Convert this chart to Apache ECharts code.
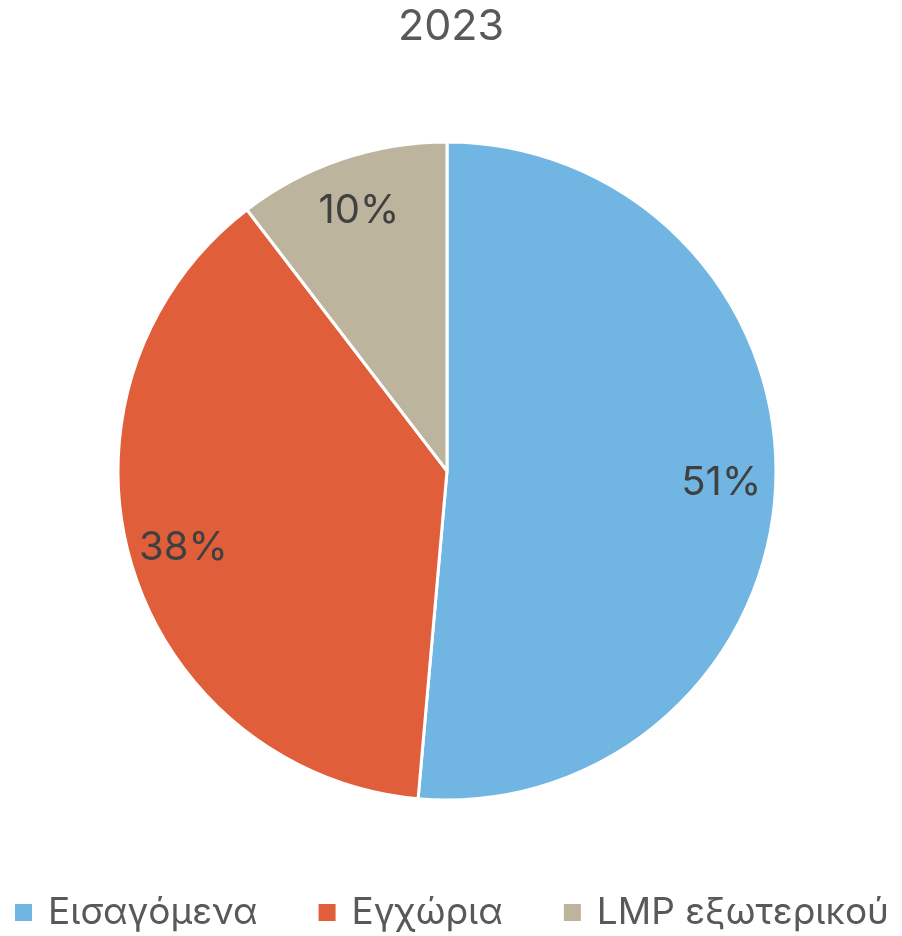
<!DOCTYPE html>
<html>
<head>
<meta charset="utf-8">
<script src="https://cdn.jsdelivr.net/npm/echarts@6/dist/echarts.min.js"></script>
<style>
  html, body { margin: 0; padding: 0; background: #ffffff; }
  #chart { width: 902px; height: 936px; }
</style>
</head>
<body>
<div id="chart"></div>
<script>
// Share of supply, 2023 (percent)
const titleText = '2023';
const categories = ['Εισαγόμενα', 'Εγχώρια', 'LMP εξωτερικού'];
const shares = [51.4, 38.2, 10.4];
const colors = ['#71B6E3', '#E15E3B', '#BDB49D'];

const pieData = categories.map((name, i) => ({ name: name, value: shares[i] }));
const fontFamily = 'Inter, "Noto Sans", sans-serif';
const center = [447, 471];

const chart = echarts.init(document.getElementById('chart'));
chart.setOption({
  animation: false,
  color: colors,
  title: {
    text: titleText,
    left: 'center',
    top: 1,
    textStyle: { fontFamily: fontFamily, fontSize: 43, fontWeight: 'normal', color: '#595959' }
  },
  legend: {
    data: categories,
    bottom: 0,
    left: 'center',
    icon: 'rect',
    itemWidth: 19,
    itemHeight: 19,
    itemGap: 59,
    textStyle: { fontFamily: fontFamily, fontSize: 37, color: '#595959', padding: [0, 0, 0, 10] }
  },
  series: [
    {
      type: 'pie',
      center: center,
      radius: [0, 329],
      startAngle: 90,
      clockwise: true,
      silent: true,
      data: pieData,
      itemStyle: { borderColor: '#ffffff', borderWidth: 3 },
      label: { show: false },
      labelLine: { show: false }
    },
    {
      // transparent ring used only to place the percentage labels
      type: 'pie',
      center: center,
      radius: [214, 329],
      startAngle: 90,
      clockwise: true,
      silent: true,
      legendHoverLink: false,
      data: pieData,
      itemStyle: { color: 'rgba(0,0,0,0)', borderWidth: 0 },
      label: {
        show: true,
        position: 'inside',
        fontFamily: fontFamily,
        fontSize: 40,
        color: '#404040',
        formatter: p => Math.round(p.value) + '%'
      },
      labelLine: { show: false }
    }
  ]
});
</script>
</body>
</html>
